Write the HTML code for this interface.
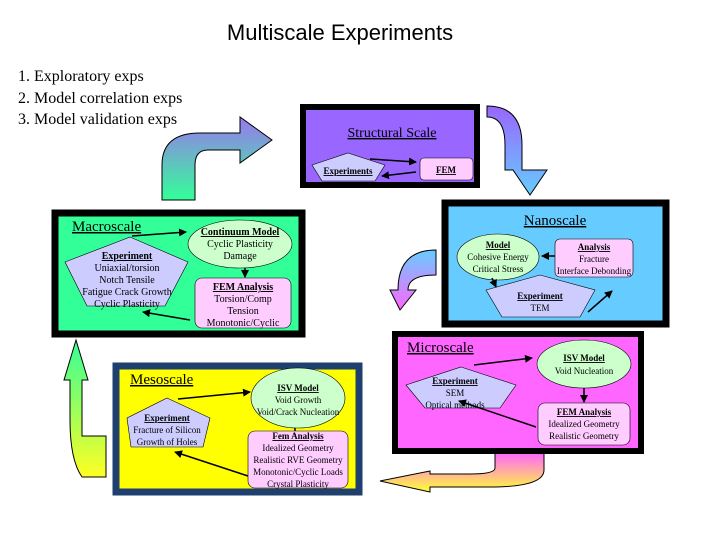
<!DOCTYPE html>
<html><head><meta charset="utf-8"><style>
html,body{margin:0;padding:0;background:#fff;}
svg{display:block;}
text{font-family:"Liberation Serif",serif;}
.t{font-size:10px;text-anchor:middle;}
.b{font-weight:bold;text-decoration:underline;font-size:10px;text-anchor:middle;}
.h{font-size:15px;text-decoration:underline;}
</style></head><body>
<svg width="720" height="540" viewBox="0 0 720 540" xmlns="http://www.w3.org/2000/svg">
<defs>
<linearGradient id="g1" x1="0" y1="0" x2="0" y2="1"><stop offset="0" stop-color="#9977ee"/><stop offset="1" stop-color="#33ff99"/></linearGradient>
<linearGradient id="g2" x1="0" y1="0" x2="0" y2="1"><stop offset="0" stop-color="#9966ff"/><stop offset="1" stop-color="#66ccff"/></linearGradient>
<linearGradient id="g3" x1="0" y1="0" x2="0" y2="1"><stop offset="0" stop-color="#66ccff"/><stop offset="1" stop-color="#ff66ff"/></linearGradient>
<linearGradient id="g4" x1="0" y1="0" x2="0" y2="1"><stop offset="0" stop-color="#ff66ff"/><stop offset="1" stop-color="#ffff33"/></linearGradient>
<linearGradient id="g5" x1="0" y1="0" x2="0" y2="1"><stop offset="0" stop-color="#33ff99"/><stop offset="1" stop-color="#ffff22"/></linearGradient>
<marker id="ar" markerWidth="8" markerHeight="8" refX="7" refY="4" orient="auto" markerUnits="userSpaceOnUse"><path d="M0,0 L8,4 L0,8 z" fill="#000"/></marker>
</defs>

<text x="340" y="40" text-anchor="middle" style="font-family:'Liberation Sans',sans-serif;font-size:22px">Multiscale Experiments</text>
<text x="18" y="81" style="font-size:16px">1. Exploratory exps</text>
<text x="18" y="103" style="font-size:16px">2. Model correlation exps</text>
<text x="18" y="124" style="font-size:16px">3. Model validation exps</text>

<!-- curved arrows -->
<path d="M162,200 L162,165 Q162,133 200,133 L240,133 L240,117 L272,140 L240,163 L240,150 L208,150 Q195,150 195,165 L195,200 Z" fill="url(#g1)" stroke="#000" stroke-width="1"/>
<path d="M487,117 L487,106 Q522,106 522,145 L522,170 L547,170 L530,195 L513,170 L505,170 L505,145 Q505,117 487,117 Z" fill="url(#g2)" stroke="#000" stroke-width="1"/>
<path d="M436,250 L436,275 Q408,275 408,290 L416,290 L400,310 L390,290 L398,290 Q398,250 436,250 Z" fill="url(#g3)" stroke="#000" stroke-width="1"/>
<path d="M495,453 L495,468 Q495,474 470,474 L430,474 L430,471 L380,481 L430,492 L430,487 L490,487 Q544,487 544,470 L544,453 Z" fill="url(#g4)" stroke="#000" stroke-width="1"/>
<path d="M76,340 L88,380 L82,380 L82,436 L106,436 L106,477 L82,477 Q70,460 70,420 L70,380 L64,380 Z" fill="url(#g5)" stroke="#000" stroke-width="1"/>

<!-- Structural -->
<rect x="303" y="107" width="174" height="78" fill="#9966ff" stroke="#000" stroke-width="6"/>
<text x="392" y="137" text-anchor="middle" class="h" style="font-size:14px">Structural Scale</text>
<polygon points="348,153 385,165 375,181 322,181 312,165" fill="#ccccff" stroke="#000" stroke-width="0.6"/>
<text x="348" y="174" class="b" style="font-size:9px">Experiments</text>
<rect x="420" y="158" width="53" height="22" rx="4" fill="#ffccff" stroke="#000" stroke-width="0.6"/>
<text x="446" y="173" class="b" style="font-size:9px">FEM</text>
<line x1="370" y1="159" x2="416" y2="162" stroke="#000" stroke-width="1.5" marker-end="url(#ar)"/>
<line x1="416" y1="172" x2="382" y2="176" stroke="#000" stroke-width="1.5" marker-end="url(#ar)"/>

<!-- Nanoscale -->
<rect x="445" y="203" width="221" height="121" fill="#66ccff" stroke="#000" stroke-width="7"/>
<text x="555" y="225" text-anchor="middle" class="h">Nanoscale</text>
<ellipse cx="498" cy="257" rx="41" ry="23" fill="#ccffcc" stroke="#000" stroke-width="0.6"/>
<text x="498" y="248" class="b" style="font-size:9px">Model</text>
<text x="498" y="260" class="t" style="font-size:9px">Cohesive Energy</text>
<text x="498" y="272" class="t" style="font-size:9px">Critical Stress</text>
<rect x="555" y="239" width="78" height="38" rx="5" fill="#ffccff" stroke="#000" stroke-width="0.6"/>
<text x="594" y="250" class="b" style="font-size:9px">Analysis</text>
<text x="594" y="262" class="t" style="font-size:9px">Fracture</text>
<text x="594" y="274" class="t" style="font-size:9px">Interface Debonding</text>
<polygon points="540,275 595,290 580,317 502,317 486,290" fill="#ccccff" stroke="#000" stroke-width="0.6"/>
<text x="540" y="299" class="b" style="font-size:9px">Experiment</text>
<text x="540" y="311" class="t" style="font-size:9px">TEM</text>
<line x1="555" y1="256" x2="542" y2="256" stroke="#000" stroke-width="1.5" marker-end="url(#ar)"/>
<line x1="492" y1="278" x2="496" y2="287" stroke="#000" stroke-width="1.5" marker-end="url(#ar)"/>
<line x1="588" y1="312" x2="612" y2="291" stroke="#000" stroke-width="1.5" marker-end="url(#ar)"/>

<!-- Macroscale -->
<rect x="55" y="213" width="247" height="121" fill="#33ff99" stroke="#000" stroke-width="7"/>
<text x="72" y="231" class="h">Macroscale</text>
<polygon points="130,237 188,262 165,306 87,306 65,262" fill="#ccccff" stroke="#000" stroke-width="0.6"/>
<text x="127" y="259" class="b">Experiment</text>
<text x="127" y="271" class="t">Uniaxial/torsion</text>
<text x="127" y="283" class="t">Notch Tensile</text>
<text x="127" y="295" class="t">Fatigue Crack Growth</text>
<text x="127" y="307" class="t">Cyclic Plasticity</text>
<ellipse cx="240" cy="244" rx="52" ry="24" fill="#ccffcc" stroke="#000" stroke-width="0.6"/>
<text x="240" y="235" class="b">Continuum Model</text>
<text x="240" y="247" class="t">Cyclic Plasticity</text>
<text x="240" y="259" class="t">Damage</text>
<rect x="195" y="278" width="96" height="50" rx="7" fill="#ffccff" stroke="#000" stroke-width="0.6"/>
<text x="243" y="290" class="b">FEM Analysis</text>
<text x="243" y="302" class="t">Torsion/Comp</text>
<text x="243" y="314" class="t">Tension</text>
<text x="243" y="326" class="t">Monotonic/Cyclic</text>
<line x1="132" y1="236" x2="186" y2="232" stroke="#000" stroke-width="1.5" marker-end="url(#ar)"/>
<line x1="245" y1="268" x2="245" y2="277" stroke="#000" stroke-width="1.5" marker-end="url(#ar)"/>
<line x1="190" y1="320" x2="143" y2="312" stroke="#000" stroke-width="1.5" marker-end="url(#ar)"/>

<!-- Mesoscale -->
<rect x="116" y="366" width="243" height="126" fill="#ffff00" stroke="#1f3f6f" stroke-width="7"/>
<text x="130" y="384" class="h">Mesoscale</text>
<polygon points="167,398 210,418 203,447 131,447 127,418" fill="#ccccff" stroke="#000" stroke-width="0.6"/>
<text x="167" y="421" class="b" style="font-size:9px">Experiment</text>
<text x="167" y="433" class="t" style="font-size:9px">Fracture of Silicon</text>
<text x="167" y="445" class="t" style="font-size:9px">Growth of Holes</text>
<ellipse cx="298" cy="398" rx="47" ry="30" fill="#ccffcc" stroke="#000" stroke-width="0.6"/>
<text x="298" y="391" class="b" style="font-size:9px">ISV Model</text>
<text x="298" y="403" class="t" style="font-size:9px">Void Growth</text>
<text x="298" y="415" class="t" style="font-size:9px">Void/Crack Nucleation</text>
<rect x="248" y="431" width="100" height="57" rx="7" fill="#ffccff" stroke="#000" stroke-width="0.6"/>
<text x="298" y="439" class="b" style="font-size:9px">Fem Analysis</text>
<text x="298" y="451" class="t" style="font-size:9px">Idealized Geometry</text>
<text x="298" y="463" class="t" style="font-size:9px">Realistic RVE Geometry</text>
<text x="298" y="475" class="t" style="font-size:9px">Monotonic/Cyclic Loads</text>
<text x="298" y="487" class="t" style="font-size:9px">Crystal Plasticity</text>
<line x1="178" y1="399" x2="250" y2="392" stroke="#000" stroke-width="1.5" marker-end="url(#ar)"/>
<line x1="295" y1="428" x2="295" y2="431" stroke="#000" stroke-width="1.5"/>
<line x1="248" y1="476" x2="175" y2="452" stroke="#000" stroke-width="1.5" marker-end="url(#ar)"/>

<!-- Microscale -->
<rect x="395" y="334" width="246" height="117" fill="#ff66ff" stroke="#000" stroke-width="6"/>
<text x="407" y="352" class="h">Microscale</text>
<polygon points="461,367 516,385 500,408 425,408 406,385" fill="#ccccff" stroke="#000" stroke-width="0.6"/>
<text x="455" y="384" class="b" style="font-size:9px">Experiment</text>
<text x="455" y="396" class="t" style="font-size:9px">SEM</text>
<text x="455" y="408" class="t" style="font-size:9px">Optical methods</text>
<ellipse cx="584" cy="364" rx="47" ry="24" fill="#ccffcc" stroke="#000" stroke-width="0.6"/>
<text x="584" y="361" class="b" style="font-size:9px">ISV Model</text>
<text x="584" y="374" class="t" style="font-size:9px">Void Nucleation</text>
<rect x="538" y="403" width="92" height="42" rx="7" fill="#ffccff" stroke="#000" stroke-width="0.6"/>
<text x="584" y="415" class="b" style="font-size:9px">FEM Analysis</text>
<text x="584" y="427" class="t" style="font-size:9px">Idealized Geometry</text>
<text x="584" y="439" class="t" style="font-size:9px">Realistic Geometry</text>
<line x1="474" y1="365" x2="532" y2="358" stroke="#000" stroke-width="1.5" marker-end="url(#ar)"/>
<line x1="584" y1="388" x2="584" y2="402" stroke="#000" stroke-width="1.5" marker-end="url(#ar)"/>
<line x1="536" y1="427" x2="459" y2="401" stroke="#000" stroke-width="1.5" marker-end="url(#ar)"/>
</svg>
</body></html>
